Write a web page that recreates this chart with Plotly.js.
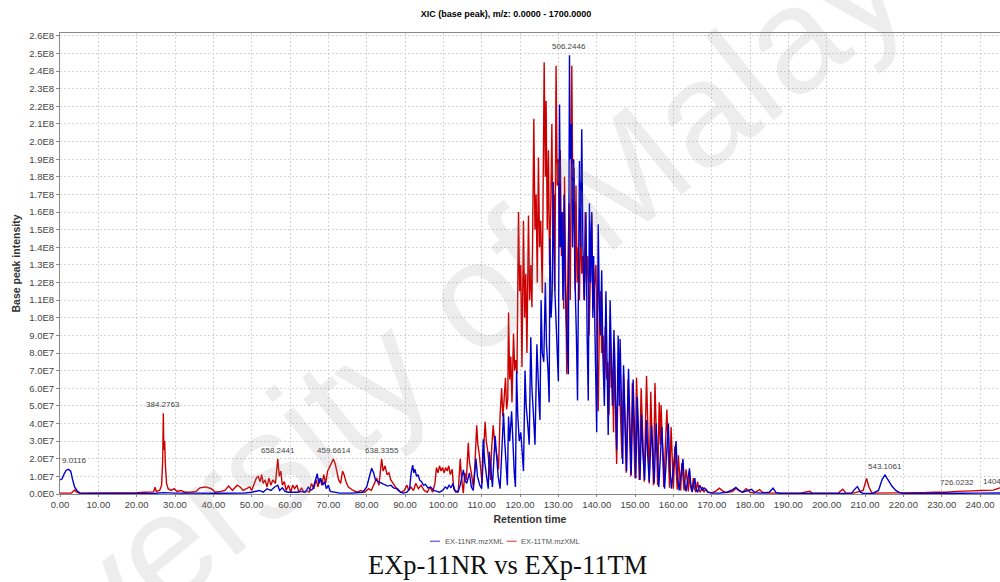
<!DOCTYPE html>
<html>
<head>
<meta charset="utf-8">
<script src="https://cdn.plot.ly/plotly-3.0.1.min.js"></script>
<style>html,body{margin:0;padding:0;background:#fff;}</style>
</head>
<body>
<div id="chart" style="width:1000px;height:582px;"></div>
<script>
// Retention time (min), base peak intensity in units of 1E7
const seriesNames = ['EX-11NR.mzXML', 'EX-11TM.mzXML'];

const tmPoints = [
[0,0.05],[3,0.05],[3.8,0.22],[4.3,0.1],[5,0.05],[10,0.05],[15,0.06],[20,0.08],[22,0.1],[24.4,0.12],[24.8,0.38],[25.1,0.15],[26,0.2],[26.5,0.5],[26.8,2.0],[26.95,4.58],[27.1,2.5],[27.3,3.0],[27.5,1.6],[27.8,0.6],[28.2,0.3],[29,0.2],[29.8,0.3],[30.5,0.15],[31.5,0.2],[32.5,0.1],[34,0.1],[35.5,0.15],[36.5,0.35],[38,0.4],[39.5,0.3],[40.5,0.1],[42,0.15],[43,0.2],[44,0.45],[45,0.2],[46.2,0.5],[47,0.4],[47.8,0.2],[48.5,0.3],[49.5,0.4],[50,0.2],
[50.7,0.6],[51.2,0.9],[51.7,1.0],[52.2,0.7],[52.6,1.1],[53,0.6],[53.5,0.8],[54,0.4],[54.5,0.9],[55,0.5],[55.5,0.8],[56.2,0.6],[56.8,1.98],[57.2,1.0],[57.6,1.3],[58,0.5],[58.5,0.7],[59,0.2],[59.6,0.5],[60.2,0.1],[60.7,0.5],[61.2,0.3],[61.8,0.5],[62.3,0.1],[63,0.35],[63.6,0.1],[64.3,0.2],[65,0.1],[65.6,0.6],[66.2,0.3],[66.8,0.8],[67.3,0.4],[67.8,0.9],[68.3,0.5],[68.8,1.1],[69.3,0.6],[69.8,1.3],[70.3,1.5],[70.8,1.7],[71.3,1.98],[71.8,1.7],[72.3,1.2],[72.7,0.8],[73.2,0.6],[73.7,1.3],[74.1,1.1],[74.6,0.7],[75.2,0.4],[75.8,0.3],[76.5,0.2],[77.5,0.1],[78.5,0.2],[79.5,0.1],
[80.5,0.3],[81.2,0.2],[82,0.6],[82.6,0.9],[83.2,0.5],[83.6,1.6],[83.9,1.98],[84.3,1.3],[84.8,1.6],[85.3,1.1],[85.8,1.2],[86.3,0.8],[86.8,0.6],[87.5,0.4],[88.2,0.2],[89,0.1],[89.8,0.2],[90.5,0.5],[91,0.2],[91.5,0.4],[92.2,0.2],[92.8,0.6],[93.5,0.3],[94.2,0.5],[95,0.2],[95.8,0.1],[96.5,0.4],[97.2,0.1],[97.8,0.6],[98.2,1.5],[98.6,1.2],[99,1.6],[99.4,1.3],[99.8,1.5],[100.2,1.2],[100.6,1.5],[101,1.3],[101.4,1.6],[101.8,1.1],[102.3,1.4],[102.7,0.3],[103.3,0.1],[103.9,0.2],
[104.4,2.0],[104.7,1.0],[105.0,0.3],[105.2,0.05],[105.6,1.2],[106.0,0.8],[106.5,2.9],[106.8,1.8],[107.3,1.2],[107.8,0.4],[108.2,1.5],[108.7,3.9],[109.0,2.8],[109.4,2.2],[109.8,1.3],[110.1,0.6],[110.5,2.5],[110.9,4.1],[111.2,3.0],[111.6,2.4],[112.0,1.5],[112.3,0.8],[112.6,2.6],[113.0,3.9],[113.3,3.1],[113.7,2.6],[114.1,2.0],[114.4,1.4],[114.8,4.5],[115.2,6.0],[115.5,4.4],[115.8,5.2],[116.2,6.6],[116.5,4.8],[116.8,5.4],[117.0,10.3],[117.3,6.5],[117.6,7.8],[117.9,5.2],[118.3,9.1],[118.6,7.0],[118.9,7.6],[119.2,6.8],
[119.6,16.0],[119.9,11.5],[120.2,13.0],[120.5,7.2],[120.9,15.5],[121.2,10.0],[121.5,12.5],[121.8,8.0],[122.2,15.8],[122.5,11.0],[122.8,13.0],[123.1,10.6],[123.6,21.3],[123.9,15.0],[124.2,17.0],[124.5,12.0],[124.8,19.1],[125.1,14.0],[125.4,15.5],[125.8,11.4],[126.3,24.5],[126.6,18.0],[126.8,22.3],[127.1,15.0],[127.4,19.5],[127.7,13.0],[128.0,16.0],[128.3,21.0],[128.6,14.5],[128.9,17.0],[129.1,11.5],[129.4,24.3],[129.7,17.5],[130.0,19.0],[130.3,14.0],[130.5,19.5],[130.8,13.5],[131.1,16.0],[131.4,10.5],[131.6,18.0],[131.9,12.0],[132.2,6.8],[132.5,13.0],[132.8,16.5],[133.1,11.0],[133.5,24.3],[133.8,16.0],[134.1,18.5],[134.4,11.5],[134.6,17.5],[134.9,12.0],[135.2,14.0],[135.5,11.0],[135.8,15.8],[136.1,12.5],[136.4,13.5],[136.7,11.0],[137.0,16.0],[137.3,12.0],[137.7,13.5],[138.0,9.0],[138.4,13.0],[138.7,15.9],[139.0,10.5],[139.4,12.0],[139.8,13.0],[140.1,8.0],
[140.4,4.7],[140.7,10.0],[141.0,11.5],[141.3,8.0],[141.7,9.0],[142.0,6.0],[142.2,9.5],[142.6,6.5],[142.9,7.5],[143.2,4.5],[143.5,9.3],[143.8,6.0],[144.1,7.0],[144.4,3.5],[144.6,8.6],[144.9,5.0],[145.2,1.7],[145.5,5.5],[145.9,7.0],[146.2,4.5],[146.6,2.0],[147.0,6.8],[147.3,4.0],[147.7,1.2],[148.2,6.5],[148.5,4.0],[148.9,1.0],[149.3,6.3],[149.6,3.8],[150.0,0.9],[150.4,6.6],[150.7,4.0],[151.1,0.8],[151.6,6.0],[151.9,3.5],[152.4,0.7],[153.0,6.7],[153.3,4.0],[153.7,0.6],[154.1,5.8],[154.4,3.2],[154.8,0.5],[155.2,6.3],[155.5,3.5],[155.9,0.5],[156.3,5.2],[156.6,2.8],[156.8,5.05],[157.1,2.5],[157.5,0.4],[158.3,4.8],[158.6,2.4],[159.0,0.35],[159.4,3.8],[159.7,1.8],[160.0,0.3],[160.4,2.7],[160.7,1.2],[161.0,0.25],[161.3,2.2],[161.6,0.9],[161.9,0.2],[162.2,1.75],[162.5,0.7],[162.8,0.2],[163.3,1.4],[163.6,0.5],[163.9,0.15],[164.2,1.3],[164.5,0.4],[164.8,0.15],[165.2,0.9],[165.5,0.3],[165.9,0.1],[166.3,0.7],[166.7,0.2],[167.0,0.1],[167.5,0.4],[168.0,0.1],[168.5,0.3],[169.0,0.1],
[170,0.08],[171,0.15],[172,0.33],[173,0.15],[174,0.08],[175.5,0.15],[176.3,0.33],[177,0.2],[178,0.1],[179,0.3],[180,0.1],[181,0.05],[182.5,0.25],[183.2,0.1],[184.5,0.05],[187,0.05],[190,0.03],[193,0.05],[195.6,0.15],[196.2,0.05],[200,0.05],[203,0.05],[204.2,0.27],[205,0.05],[207,0.05],[209.5,0.2],[210.4,0.89],[211,0.4],[211.8,0.05],[214,0.05],[218,0.05],[222,0.05],[225,0.08],[228,0.1],[231,0.1],[233.9,0.15],[236,0.15],[238,0.18],[240.3,0.2],[242,0.2],[243.5,0.22],[244.5,0.3],[245.2,0.35]
];

const nrPoints = [
[0,0.8],[0.5,0.85],[1,1.1],[1.6,1.35],[2.2,1.4],[2.8,1.3],[3.3,0.8],[3.8,0.4],[4.4,0.2],[5.2,0.05],[10,0.03],[20,0.03],[25,0.04],[27,0.08],[30,0.05],[40,0.04],[48,0.05],[50,0.1],[51,0.15],[52,0.2],[53,0.1],[54,0.3],[55,0.2],[56,0.4],[56.8,0.5],[57.3,0.2],[58,0.35],[58.7,0.15],[59.5,0.1],[61,0.08],[62,0.1],[63,0.15],[64,0.1],[64.8,0.4],[65.3,0.2],[66,0.3],[66.7,0.8],[67.1,1.15],[67.5,0.6],[68,0.9],[68.5,0.5],[69,0.7],[69.5,0.3],[70,0.5],[70.5,0.15],[71.5,0.1],[73,0.05],[76,0.05],[78,0.08],[79,0.1],
[80,0.4],[80.6,0.9],[81.3,1.46],[81.8,1.2],[82.3,0.8],[83,0.7],[84,0.6],[84.8,0.5],[85.5,0.45],[86.3,0.5],[87,0.35],[88,0.3],[88.8,0.1],[89.5,0.05],[90.5,0.1],[91.2,0.3],[91.6,1.2],[92.0,1.64],[92.3,1.2],[92.6,1.4],[93,1.0],[93.4,1.1],[93.8,0.8],[94.3,0.7],[94.8,0.5],[95.3,0.55],[96,0.35],[96.7,0.4],[97.5,0.2],[98.3,0.15],[99,0.1],[99.8,0.2],[100.5,0.4],[101,0.3],[101.5,0.5],[102,0.35],[102.5,0.6],[103,0.2],[103.8,0.1],
[104.4,0.5],[105.2,1.37],[105.6,0.8],[106.1,0.6],[106.8,1.2],[107.3,0.4],[107.8,0.2],[108.5,2.0],[108.9,1.0],[109.5,0.5],[110,0.3],[110.4,3.1],[110.8,1.8],[111.3,1.0],[111.7,0.3],[112.0,2.4],[112.4,1.2],[112.8,0.4],[113.5,3.3],[113.9,2.0],[114.3,1.0],[114.8,0.3],[115.7,4.6],[116.0,3.0],[116.4,1.5],[116.7,0.5],[117.0,4.4],[117.3,3.0],[117.8,4.7],[118.1,2.8],[118.5,1.2],[118.8,0.4],[119.1,7.0],[119.4,4.5],[119.8,3.0],[120.2,3.5],[120.6,2.0],[120.9,1.3],[121.3,7.0],[121.6,5.0],[122.0,4.0],[122.4,2.8],[122.8,8.9],[123.1,6.0],[123.5,4.5],[123.9,2.8],[124.4,8.5],[124.7,6.0],[125.0,5.0],[125.2,4.2],[125.5,11.0],[125.8,8.0],[126.2,7.5],[126.6,12.0],[126.9,8.5],[127.3,7.0],[127.6,5.2],[127.8,14.5],[128.1,10.0],[128.4,11.5],[128.7,17.7],[129.0,12.0],[129.4,10.0],[129.8,7.5],[130.0,6.4],
[130.3,22.1],[130.6,14.0],[130.9,16.0],[131.2,11.0],[131.5,17.0],[131.8,12.0],[132.2,9.0],[132.6,6.8],[132.9,24.9],[133.1,19.0],[133.4,21.0],[133.7,14.0],[134.0,19.0],[134.3,12.5],[134.7,9.0],[135.0,5.3],[135.5,18.9],[135.8,14.0],[136.1,20.7],[136.4,14.0],[136.8,11.0],[137.2,16.0],[137.5,9.0],[137.8,5.3],[138.1,16.5],[138.4,12.0],[138.7,16.0],[139.0,10.0],[139.2,13.5],[139.6,8.0],[140.0,3.5],[140.4,15.3],[140.7,10.5],[141.0,9.0],[141.3,12.7],[141.6,8.0],[142.0,5.0],[142.4,11.5],[142.7,7.0],[143.0,3.35],[143.5,11.0],[143.8,7.0],[144.1,5.0],[144.5,9.3],[144.8,5.5],[145.2,2.5],[145.6,9.0],[145.9,5.0],[146.1,8.8],[146.5,4.0],[146.8,1.7],[147.0,7.3],[147.4,4.0],[147.8,1.3],[148.3,7.1],[148.6,3.8],[149.0,1.1],[149.5,6.5],[149.8,3.5],[150.2,0.9],[150.6,5.5],[150.9,2.8],[151.3,0.8],[151.7,4.5],[152.0,2.5],[152.5,0.8],[153.0,4.2],[153.3,2.2],[153.7,0.7],[154.3,3.9],[154.6,2.0],[155.0,0.6],[155.5,4.0],[155.8,2.0],[156.2,0.4],[157.0,3.8],[157.3,1.8],[157.7,0.3],[158.7,4.0],[159.0,1.8],[159.5,0.3],[160.7,3.0],[161.0,1.3],[161.5,0.2],[162.5,2.0],[162.8,0.8],[163.3,0.15],[164.2,1.46],[164.5,0.6],[164.9,0.1],[165.6,0.9],[165.9,0.3],[166.3,0.1],[166.9,0.5],
[167.5,0.2],[168,0.35],[169,0.1],[170,0.05],[172,0.05],[174,0.1],[175.5,0.25],[176.3,0.38],[177.2,0.2],[178,0.1],[179.5,0.2],[180.4,0.27],[181.2,0.08],[183,0.05],[185,0.1],[186,0.33],[186.8,0.08],[188,0.03],[192,0.03],[196,0.05],[200,0.03],[204,0.03],[206.5,0.05],[207.2,0.25],[208,0.42],[208.8,0.1],[209.5,0.03],[212,0.03],[213.5,0.2],[214.5,0.85],[215.2,1.08],[216,0.8],[217,0.45],[218,0.2],[219,0.08],[220,0.03],[225,0.02],[230,0.03],[235,0.04],[240,0.05],[245.2,0.06]
];

const yTickValues = [0,1,2,3,4,5,6,7,8,9,10,11,12,13,14,15,16,17,18,19,20,21,22,23,24,25,26];
const yTickLabels = ['0.0E0','1.0E7','2.0E7','3.0E7','4.0E7','5.0E7','6.0E7','7.0E7','8.0E7','9.0E7','1.0E8','1.1E8','1.2E8','1.3E8','1.4E8','1.5E8','1.6E8','1.7E8','1.8E8','1.9E8','2.0E8','2.1E8','2.2E8','2.3E8','2.4E8','2.5E8','2.6E8'];

const peakLabelTimes = [0, 26.95, 56.8, 71.5, 84.1, 132.9, 215.1, 233.9, 240.2];
const peakLabelIntensities = [1.4, 4.58, 1.98, 1.98, 1.98, 24.9, 1.08, 0.15, 0.2];
const peakLabelTexts = ['9.0116','384.2763','658.2441','459.6614','638.3355','506.2446','543.1061','726.0232','1404.'];
const peakLabelAnchors = ['left','center','center','center','center','center','center','center','left'];

const FONT = '"Liberation Sans", Arial, sans-serif';

const traces = [
  {
    x: tmPoints.map(p => p[0]), y: tmPoints.map(p => p[1]),
    type: 'scatter', mode: 'lines', name: seriesNames[1],
    line: {color: '#cc0000', width: 1.4}, showlegend: false, hoverinfo: 'skip'
  },
  {
    x: nrPoints.map(p => p[0]), y: nrPoints.map(p => p[1]),
    type: 'scatter', mode: 'lines', name: seriesNames[0],
    line: {color: '#0000cc', width: 1.4}, showlegend: false, hoverinfo: 'skip'
  }
];

const annotations = peakLabelTexts.map((t, i) => ({
  x: peakLabelTimes[i], y: peakLabelIntensities[i], xref: 'x', yref: 'y',
  text: t, showarrow: false, xanchor: peakLabelAnchors[i], yanchor: 'bottom', yshift: 2,
  font: {family: FONT, size: 8, color: '#444'}
}));

// custom legend text
annotations.push({xref:'paper', yref:'paper', x:(442.7-60)/940, y:(494-541.3)/461, xanchor:'left', yanchor:'middle', showarrow:false, text: seriesNames[0], font:{family:FONT, size:7.5, color:'#555'}});
annotations.push({xref:'paper', yref:'paper', x:(519.3-60)/940, y:(494-541.3)/461, xanchor:'left', yanchor:'middle', showarrow:false, text: seriesNames[1], font:{family:FONT, size:7.5, color:'#555'}});
// caption
annotations.push({xref:'paper', yref:'paper', x:(507-60)/940, y:(494-565)/461, xanchor:'center', yanchor:'middle', showarrow:false, text:'EXp-11NR vs EXp-11TM', font:{family:'"Liberation Serif", "Times New Roman", serif', size:26.5, color:'#111'}});
// watermark
annotations.push({xref:'paper', yref:'paper', x:(422-60)/940, y:(494-338)/461, xanchor:'center', yanchor:'middle', showarrow:false, textangle:-39, text:'University of Malaya', font:{family:FONT, size:150, color:'rgba(150,150,150,0.17)'}});

const shapes = [
  {type:'line', xref:'paper', yref:'paper', x0:(430-60)/940, x1:(440-60)/940, y0:(494-541.3)/461, y1:(494-541.3)/461, line:{color:'#7070e6', width:1.5}},
  {type:'line', xref:'paper', yref:'paper', x0:(506.7-60)/940, x1:(516.7-60)/940, y0:(494-541.3)/461, y1:(494-541.3)/461, line:{color:'#e67070', width:1.5}}
];

const layout = {
  width: 1000, height: 582,
  margin: {l: 60, r: 0, t: 33, b: 88, pad: 0},
  paper_bgcolor: '#ffffff', plot_bgcolor: '#ffffff',
  title: {text: '<b>XIC (base peak), m/z: 0.0000 - 1700.0000</b>', x: 0.506, xref: 'container', y: 1 - 14/582, yref: 'container', xanchor: 'center', yanchor: 'middle', font: {family: FONT, size: 9, color: '#000'}},
  xaxis: {
    range: [0, 245.2], tick0: 0, dtick: 10, tickformat: '.2f',
    showgrid: true, gridcolor: '#d4d4d4', griddash: '2px,2px', gridwidth: 1,
    showline: true, linecolor: '#888', linewidth: 1, mirror: true,
    ticks: 'outside', ticklen: 2, tickcolor: '#888',
    zeroline: false,
    tickfont: {family: FONT, size: 9.5, color: '#444'},
    title: {text: '<b>Retention time</b>', standoff: 6, font: {family: FONT, size: 10.5, color: '#333'}}
  },
  yaxis: {
    range: [0, 26.16], tickmode: 'array', tickvals: yTickValues, ticktext: yTickLabels,
    showgrid: true, gridcolor: '#d4d4d4', griddash: '2px,2px', gridwidth: 1,
    showline: true, linecolor: '#888', linewidth: 1,
    ticks: 'outside', ticklen: 3, tickcolor: '#888',
    zeroline: false,
    tickfont: {family: FONT, size: 9.5, color: '#444'},
    title: {text: '<b>Base peak intensity</b>', standoff: 6, font: {family: FONT, size: 10.5, color: '#333'}}
  },
  annotations: annotations,
  shapes: shapes,
  showlegend: false
};

Plotly.newPlot('chart', traces, layout, {displayModeBar: false, staticPlot: true});
</script>
</body>
</html>
